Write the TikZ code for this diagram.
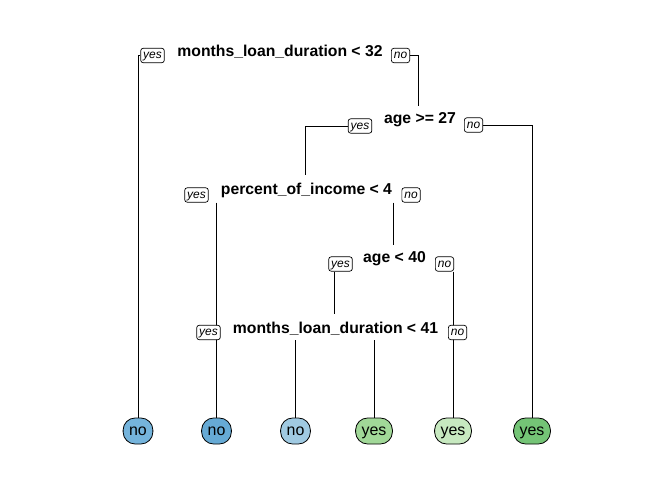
\documentclass[tikz,border=0pt]{standalone}
\usepackage{fontspec}
\setmainfont{Liberation Sans}
\usetikzlibrary{positioning}
\pgfdeclarelayer{bg}
\pgfsetlayers{bg,main}
\definecolor{leafA}{RGB}{117,180,220}
\definecolor{leafB}{RGB}{102,170,213}
\definecolor{leafC}{RGB}{160,202,226}
\definecolor{leafD}{RGB}{161,216,152}
\definecolor{leafE}{RGB}{199,233,192}
\definecolor{leafF}{RGB}{116,196,118}
\tikzset{
  split/.style={font=\fontsize{15.8}{18}\selectfont\bfseries, inner sep=2bp, anchor=base},
  lab/.style={draw, rounded corners=2.5bp, fill=white, line width=0.7bp,
    font=\fontsize{12}{14}\selectfont\itshape, inner xsep=2.5bp, inner ysep=1.5bp,
    text height=8.8bp, text depth=2.6bp},
  leaf/.style={draw, rounded corners=12bp, line width=0.8bp, minimum height=26bp,
    inner xsep=6bp, text height=11.5bp, text depth=3.4bp, font=\fontsize{16}{18}\selectfont},
  br/.style={line width=0.8bp},
}
\begin{document}
\begin{tikzpicture}[x=1bp,y=-1bp]
\useasboundingbox (0,0) rectangle (672,480);
% split nodes
\node[split] (s1) at (280,57) {months\_loan\_duration < 32};
\node[split] (s2) at (420,124) {age >= 27};
\node[split] (s3) at (306.5,195) {percent\_of\_income < 4};
\node[split] (s4) at (394.5,263) {age < 40};
\node[split] (s5) at (335.5,333) {months\_loan\_duration < 41};
% yes/no labels
\node[lab] (y1) at (152.5,55.5) {yes};
\node[lab] (n1) at (400.5,55.5) {no};
\node[lab] (y2) at (360,126) {yes};
\node[lab] (n2) at (473.5,125) {no};
\node[lab] (y3) at (196.5,195) {yes};
\node[lab] (n3) at (411,195) {no};
\node[lab] (y4) at (340.5,264) {yes};
\node[lab] (n4) at (444.5,264) {no};
\node[lab] (y5) at (208.5,332.5) {yes};
\node[lab] (n5) at (457.5,332.5) {no};
% leaves
\node[leaf, fill=leafA] (l1) at (138,431) {no};
\node[leaf, fill=leafB] (l2) at (216.5,431) {no};
\node[leaf, fill=leafC] (l3) at (295.5,431) {no};
\node[leaf, fill=leafD] (l4) at (374,431) {yes};
\node[leaf, fill=leafE] (l5) at (453,431) {yes};
\node[leaf, fill=leafF] (l6) at (532,431) {yes};
% branches
\begin{pgfonlayer}{bg}
\draw[br] (y1.west) -| (l1.north);
\draw[br] (n1.east) -| ([xshift=-2bp,yshift=5bp]s2.north);
\draw[br] (y2.west) -| ([xshift=-1.5bp,yshift=6bp]s3.north);
\draw[br] (n2.east) -| (l6.north);
\draw[br] (l2.north |- y3.south) -- (l2.north);
\draw[br] ([xshift=-1.5bp]s4.north |- n3.south) -- ([xshift=-1.5bp,yshift=5bp]s4.north);
\draw[br] ([xshift=-1bp]s5.north |- y4.south) -- ([xshift=-1bp,yshift=5bp]s5.north);
\draw[br] (l5.north |- n4.south) -- (l5.north);
\draw[br] ([yshift=-3bp]l3.north |- s5.south) -- (l3.north);
\draw[br] ([yshift=-3bp]l4.north |- s5.south) -- (l4.north);
\end{pgfonlayer}
\end{tikzpicture}
\end{document}
